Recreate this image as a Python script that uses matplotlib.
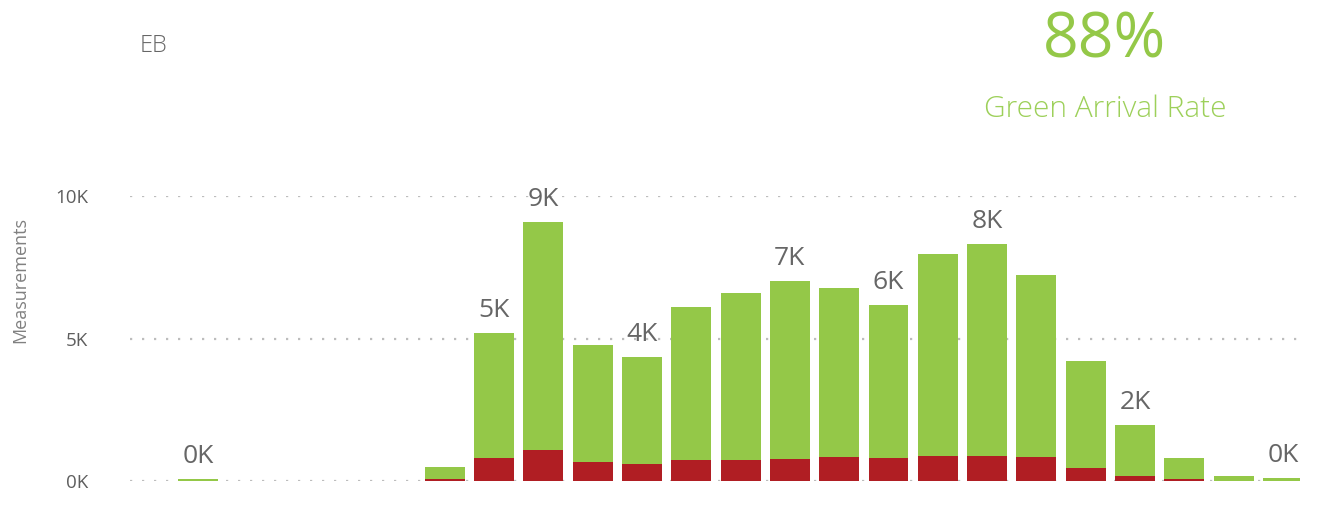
import matplotlib
matplotlib.use("Agg")
import matplotlib.pyplot as plt

plt.rcParams['font.family'] = ['Open Sans', 'DejaVu Sans']

hours = list(range(24))
red_arrivals = [0, 0, 0, 0, 0, 0, 80, 790, 1100, 650, 600, 740, 740, 770, 840, 810,
                880, 880, 840, 460, 190, 80, 10, 0]
total_arrivals = [0, 70, 0, 0, 0, 0, 490, 5190, 9090, 4770, 4350, 6110, 6600, 7020, 6770, 6180,
                  7960, 8320, 7230, 4210, 1960, 800, 180, 100]
green_arrivals = [t - r for t, r in zip(total_arrivals, red_arrivals)]
labeled_hours = [1, 7, 8, 10, 13, 15, 17, 20, 23]
y_ticks = [0, 5000, 10000]
y_tick_labels = ['0K', '5K', '10K']
direction = 'EB'
rate_text = '88%'
rate_label = 'Green Arrival Rate'

GREEN = '#94C848'
RED = '#B01E23'
TXT = '#666666'

W, H = 1321, 519
fig = plt.figure(figsize=(W / 100, H / 100), dpi=100)

left_px, right_px = 130, 1300
bottom_px, top_px = 481, 196
ax = fig.add_axes([left_px / W, (H - bottom_px) / H, (right_px - left_px) / W, (bottom_px - top_px) / H])

x0, step = 149, 49.3
ax.set_xlim((left_px - x0) / step, (right_px - x0) / step)
ax.set_ylim(0, 10000)

ax.bar(hours, red_arrivals, width=0.81, color=RED, zorder=3)
ax.bar(hours, green_arrivals, width=0.81, bottom=red_arrivals, color=GREEN, zorder=3)

for h in labeled_hours:
    t = total_arrivals[h]
    ax.annotate(f"{round(t / 1000):.0f}K", xy=(h, t), xytext=(0, 11.5), textcoords='offset points',
                ha='center', va='baseline', fontsize=19, color=TXT, zorder=4)

ax.set_yticks(y_ticks)
ax.set_yticklabels(y_tick_labels, fontsize=13.5, color='#5E5E5E')
ax.set_xticks([])
ax.tick_params(axis='y', length=0, pad=30)
for s in ax.spines.values():
    s.set_visible(False)
ax.yaxis.grid(True, color='#BDBDBD', linewidth=1.6, linestyle=(0, (1, 4.4)), zorder=0)
ax.set_axisbelow(True)

fig.text(20 / W, 1 - 280 / H, 'Measurements', rotation=90, ha='center', va='center',
         fontsize=13, color='#808080')

fig.text(140 / W, 1 - 46 / H, direction, ha='left', va='center', fontsize=17, color=TXT,
         fontweight='light')
fig.text(1105 / W, 1 - 41 / H, rate_text, ha='center', va='center', fontsize=45, color=GREEN)
fig.text(1105 / W, 1 - 109 / H, rate_label, ha='center', va='center', fontsize=21.5,
         color='#9DD05A', fontweight='light')

fig.savefig('out.png', dpi=100, facecolor='white')
